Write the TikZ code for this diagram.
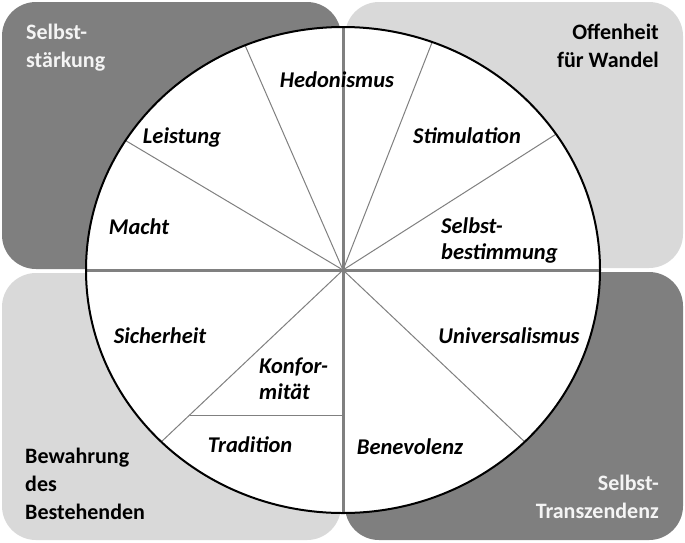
\documentclass[tikz,border=0pt]{standalone}
\usepackage{fontspec}
\setmainfont{Carlito}
\usetikzlibrary{calc}
\definecolor{darkq}{HTML}{7F7F7F}
\definecolor{lightq}{HTML}{D9D9D9}
\definecolor{axisc}{HTML}{808080}
\definecolor{whitetxt}{HTML}{F4F4F4}
\tikzset{
  quad/.style={rounded corners=34pt, draw=none},
  qlabel/.style={font=\fontsize{22}{28}\selectfont\bfseries, inner sep=0pt},
  slabel/.style={font=\fontsize{22.5}{26}\selectfont\bfseries\itshape, inner sep=0pt},
  spoke/.style={draw=axisc, line width=1pt},
  axisline/.style={draw=axisc, line width=3pt},
}
\begin{document}
\begin{tikzpicture}[x=1pt,y=-1pt]
\useasboundingbox (0,0) rectangle (685,542);
% quadrant boxes
\fill[quad, darkq] (2,2) rectangle (341,269);
\fill[quad, lightq] (345,2) rectangle (683,268);
\fill[quad, lightq] (2,273) rectangle (341,540);
\fill[quad, darkq] (345,272) rectangle (683,540);
% circle
\coordinate (c) at (343,270);
\fill[white] (c) ellipse [x radius=257, y radius=243];
% spoke end points
\foreach \n/\t in {e1/112.4, e2/147.8, e3/69.7, e4/34, e5/-45, e6/-135}
  \coordinate (\n) at ({343+257*cos(\t)},{270-243*sin(\t)});
\foreach \n in {e1,e2,e3,e4,e5,e6}
  \draw[spoke] (c) -- (\n);
\coordinate (k) at ($(c)!0.844!(e6)$);
\draw[spoke] (k) -- (k -| c);
% axes
\coordinate (top) at (343,27);
\coordinate (bot) at (343,513);
\coordinate (lft) at (86,270);
\coordinate (rgt) at (600,270);
\draw[axisline] (top) -- (bot);
\draw[axisline] (lft) -- (rgt);
\draw[line width=2pt, black] (c) ellipse [x radius=257, y radius=243];
% quadrant labels
\node[qlabel, text=whitetxt, align=left, anchor=north west] (q1) at (26,24) {Selbst-\\stärkung};
\node[qlabel, align=right, anchor=north east] (q2) at (659,24) {Offenheit\\für Wandel};
\node[qlabel, align=left, anchor=south west] (q3) at (25,520) {Bewahrung\\des\\Bestehenden};
\node[qlabel, text=whitetxt, align=right, anchor=south east] (q4) at (659,519) {Selbst-\\Transzendenz};
% segment labels
\node[slabel] (hed) at (337,80) {Hedonismus};
\node[slabel] (lei) at (182,137) {Leistung};
\node[slabel] (mac) at (139,227) {Macht};
\node[slabel] (sti) at (467,136) {Stimulation};
\node[slabel, align=left, anchor=west] (sbe) at (441,240) {Selbst-\\bestimmung};
\node[slabel] (uni) at (509,336) {Universalismus};
\node[slabel] (ben) at (410,447) {Benevolenz};
\node[slabel] (sic) at (160,336) {Sicherheit};
\node[slabel, align=left, anchor=west] (kon) at (259,379) {Konfor-\\mität};
\node[slabel] (tra) at (250,445) {Tradition};
\end{tikzpicture}
\end{document}
